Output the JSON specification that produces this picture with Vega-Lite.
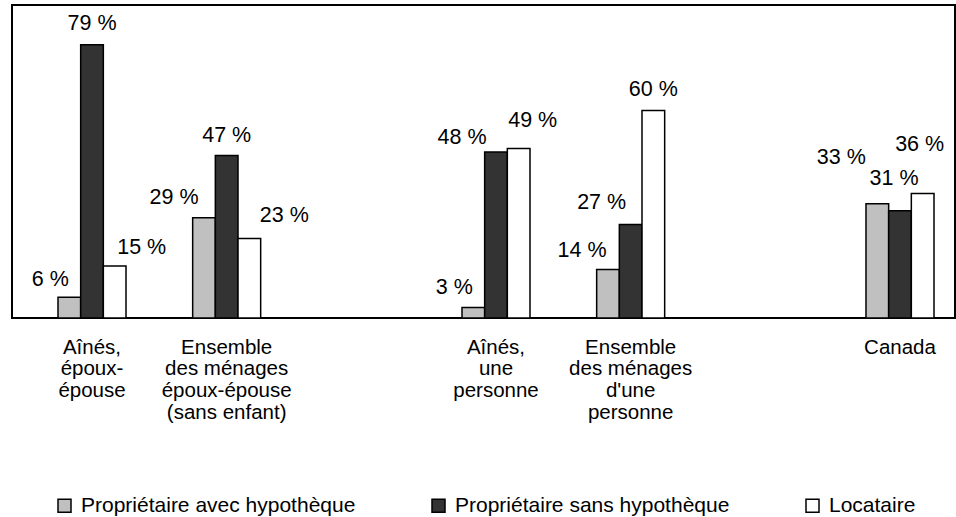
{
  "$schema": "https://vega.github.io/schema/vega-lite/v6.json",
  "width": 943,
  "height": 313,
  "autosize": {"type": "none"},
  "padding": {"left": 12, "top": 5, "right": 1, "bottom": 199},
  "background": "white",
  "config": {
    "view": {"stroke": "black", "strokeWidth": 2},
    "font": "Liberation Sans"
  },
  "data": {
    "values": [
      {"groupe": "Aînés,|époux-|épouse", "type": "Propriétaire avec hypothèque", "valeur": 6},
      {"groupe": "Aînés,|époux-|épouse", "type": "Propriétaire sans hypothèque", "valeur": 79},
      {"groupe": "Aînés,|époux-|épouse", "type": "Locataire", "valeur": 15},
      {"groupe": "Ensemble|des ménages|époux-épouse|(sans enfant)", "type": "Propriétaire avec hypothèque", "valeur": 29},
      {"groupe": "Ensemble|des ménages|époux-épouse|(sans enfant)", "type": "Propriétaire sans hypothèque", "valeur": 47},
      {"groupe": "Ensemble|des ménages|époux-épouse|(sans enfant)", "type": "Locataire", "valeur": 23},
      {"groupe": "Aînés,|une|personne", "type": "Propriétaire avec hypothèque", "valeur": 3},
      {"groupe": "Aînés,|une|personne", "type": "Propriétaire sans hypothèque", "valeur": 48},
      {"groupe": "Aînés,|une|personne", "type": "Locataire", "valeur": 49},
      {"groupe": "Ensemble|des ménages|d'une|personne", "type": "Propriétaire avec hypothèque", "valeur": 14},
      {"groupe": "Ensemble|des ménages|d'une|personne", "type": "Propriétaire sans hypothèque", "valeur": 27},
      {"groupe": "Ensemble|des ménages|d'une|personne", "type": "Locataire", "valeur": 60},
      {"groupe": "Canada", "type": "Propriétaire avec hypothèque", "valeur": 33},
      {"groupe": "Canada", "type": "Propriétaire sans hypothèque", "valeur": 31},
      {"groupe": "Canada", "type": "Locataire", "valeur": 36}
    ]
  },
  "encoding": {
    "x": {
      "field": "groupe",
      "type": "nominal",
      "sort": null,
      "scale": {
        "domain": [
          "Aînés,|époux-|épouse",
          "Ensemble|des ménages|époux-épouse|(sans enfant)",
          "_1",
          "Aînés,|une|personne",
          "Ensemble|des ménages|d'une|personne",
          "_2",
          "Canada"
        ],
        "range": [46, 922],
        "paddingInner": 0.495,
        "paddingOuter": 0
      },
      "axis": {
        "title": null,
        "domain": false,
        "ticks": false,
        "labelAngle": 0,
        "labelFontSize": 20.5,
        "labelLineHeight": 21.8,
        "labelPadding": 19,
        "labelBaseline": "top",
        "labelColor": "black",
        "labelLimit": 300,
        "labelOverlap": false,
        "labelExpr": "indexof(datum.label, '_') === 0 ? '' : split(datum.label, '|')"
      }
    },
    "xOffset": {
      "field": "type",
      "type": "nominal",
      "sort": null,
      "scale": {
        "domain": ["Propriétaire avec hypothèque", "Propriétaire sans hypothèque", "Locataire"],
        "paddingInner": 0,
        "paddingOuter": 0
      }
    },
    "y": {
      "field": "valeur",
      "type": "quantitative",
      "scale": {"domain": [0, 90.5], "nice": false},
      "axis": null
    }
  },
  "layer": [
    {
      "mark": {"type": "bar", "stroke": "black", "strokeWidth": 1.5},
      "encoding": {
        "color": {
          "field": "type",
          "type": "nominal",
          "scale": {
            "domain": ["Propriétaire avec hypothèque", "Propriétaire sans hypothèque", "Locataire"],
            "range": ["#c0c0c0", "#333333", "#ffffff"]
          },
          "legend": {
            "orient": "none",
            "legendX": 42,
            "legendY": 490,
            "direction": "horizontal",
            "title": null,
            "symbolType": "square",
            "symbolSize": 169,
            "symbolStrokeColor": "black",
            "symbolStrokeWidth": 1.5,
            "symbolOpacity": 1,
            "labelFontSize": 21,
            "labelColor": "black",
            "labelOffset": 6,
            "columnPadding": 72,
            "labelLimit": 400,
            "padding": 0
          }
        }
      }
    },
    {
      "transform": [
        {"calculate": "datum.valeur + ' %'", "as": "etiquette"}
      ],
      "mark": {
        "type": "text",
        "baseline": "alphabetic",
        "fontSize": 21.5,
        "color": "black",
        "dx": {"expr": "[[-19, 0, 27], [-30, 0, 35], [-19, -34, 14], [-26, -29, 0], [-36, -6, -3]][indexof(['Aînés,|époux-|épouse', 'Ensemble|des ménages|époux-épouse|(sans enfant)', 'Aînés,|une|personne', 'Ensemble|des ménages|d\\'une|personne', 'Canada'], datum.groupe)][indexof(['Propriétaire avec hypothèque', 'Propriétaire sans hypothèque', 'Locataire'], datum.type)]"},
        "dy": {"expr": "[[-11, -15, -12], [-14, -13, -16], [-14, -8, -22], [-13, -16, -14], [-40, -26, -42]][indexof(['Aînés,|époux-|épouse', 'Ensemble|des ménages|époux-épouse|(sans enfant)', 'Aînés,|une|personne', 'Ensemble|des ménages|d\\'une|personne', 'Canada'], datum.groupe)][indexof(['Propriétaire avec hypothèque', 'Propriétaire sans hypothèque', 'Locataire'], datum.type)]"}
      },
      "encoding": {"text": {"field": "etiquette", "type": "nominal"}}
    }
  ]
}
